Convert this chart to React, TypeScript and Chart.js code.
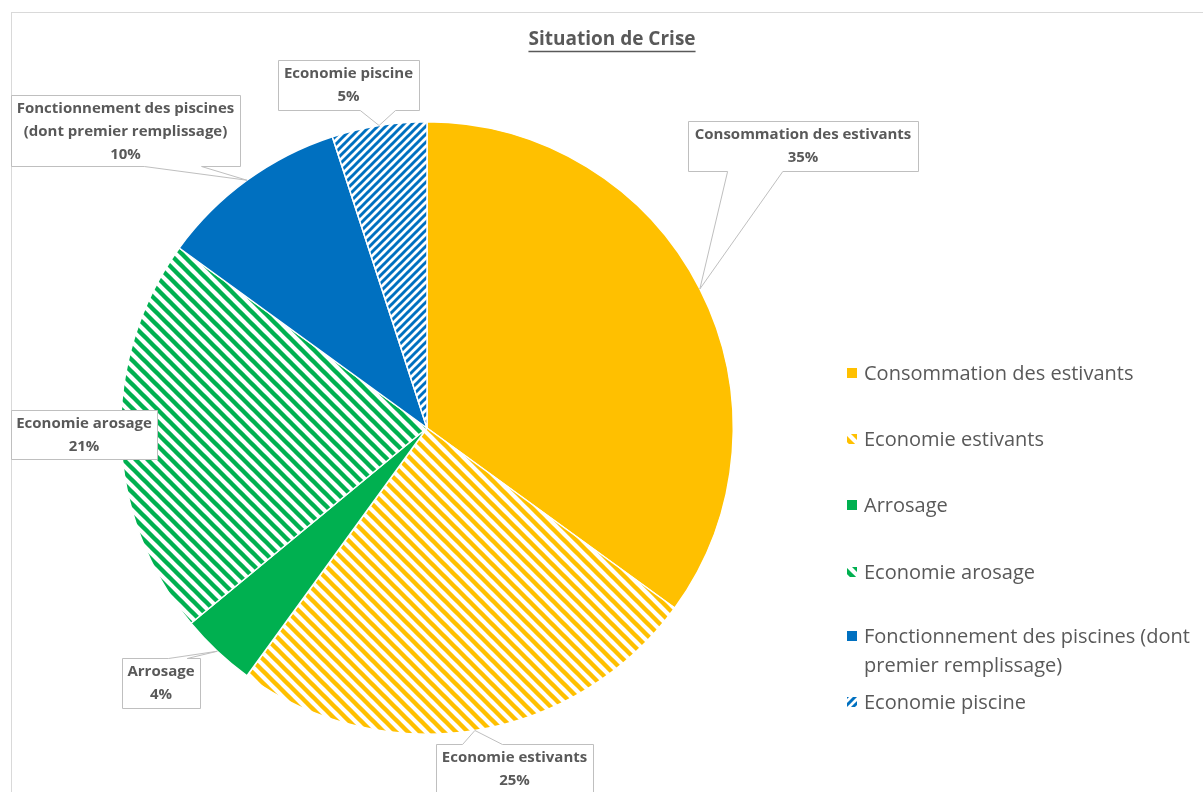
import React, { useEffect, useRef } from "react";
import { Chart, registerables } from "chart.js";

Chart.register(...registerables);

// ---------- data ----------
const titleText = "Situation de Crise";
const categories = [
  "Consommation des estivants",
  "Economie estivants",
  "Arrosage",
  "Economie arosage",
  "Fonctionnement des piscines (dont premier remplissage)",
  "Economie piscine",
];
const values = [35, 25, 4, 21, 10, 5];
const baseColors = ["#FFC000", "#FFC000", "#00B050", "#00B050", "#0070C0", "#0070C0"];
const fillKinds = ["solid", "down", "solid", "down", "solid", "up"];
const calloutLines = [
  ["Consommation des estivants"],
  ["Economie estivants"],
  ["Arrosage"],
  ["Economie arosage"],
  ["Fonctionnement des piscines", "(dont premier remplissage)"],
  ["Economie piscine"],
];
const legendLines = [
  ["Consommation des estivants"],
  ["Economie estivants"],
  ["Arrosage"],
  ["Economie arosage"],
  ["Fonctionnement des piscines (dont", "premier remplissage)"],
  ["Economie piscine"],
];

// ---------- layout / style ----------
const W = 1203;
const H = 792;
const TEXT_GRAY = "#595959";
const calloutBoxes = [
  { x: 688, y: 121, w: 230, h: 50, side: "bottom", b0: 0.17, b1: 0.41 },
  { x: 436, y: 744, w: 157, h: 56, side: "top", b0: 0.166, b1: 0.42 },
  { x: 122, y: 658, w: 78, h: 50, side: "top", b0: 0.59, b1: 0.83 },
  { x: 11, y: 410, w: 146, h: 49, side: "none", b0: 0, b1: 0 },
  { x: 11, y: 95, w: 229, h: 71, side: "bottom", b0: 0.58, b1: 0.83 },
  { x: 278, y: 60, w: 141, h: 50, side: "bottom", b0: 0.58, b1: 0.83 },
];
const legendRowY = [373, 439, 505, 572, 636, 702];
const patternTile: Record<string, number> = { down: 12, up: 8 };

function makePattern(color: string, dir: string): CanvasPattern | string {
  const s = patternTile[dir] || 8;
  const c = document.createElement("canvas");
  c.width = s;
  c.height = s;
  const g = c.getContext("2d");
  if (!g) return color;
  g.fillStyle = "#ffffff";
  g.fillRect(0, 0, s, s);
  g.strokeStyle = color;
  g.lineWidth = (s / Math.SQRT2) * 0.52;
  g.lineCap = "square";
  for (const x0 of [-s, 0, s]) {
    g.beginPath();
    if (dir === "down") {
      g.moveTo(x0 - 3, -3);
      g.lineTo(x0 + s + 3, s + 3);
    } else {
      g.moveTo(x0 - 3, s + 3);
      g.lineTo(x0 + s + 3, -3);
    }
    g.stroke();
  }
  return g.createPattern(c, "repeat") || color;
}

function drawCallout(ctx: CanvasRenderingContext2D, box: any, tip: { x: number; y: number }) {
  const x = box.x + 0.5;
  const y = box.y + 0.5;
  const { w, h, side, b0, b1 } = box;
  ctx.beginPath();
  ctx.moveTo(x, y);
  if (side === "top") {
    ctx.lineTo(x + w * b0, y);
    ctx.lineTo(tip.x, tip.y);
    ctx.lineTo(x + w * b1, y);
  }
  ctx.lineTo(x + w, y);
  ctx.lineTo(x + w, y + h);
  if (side === "bottom") {
    ctx.lineTo(x + w * b1, y + h);
    ctx.lineTo(tip.x, tip.y);
    ctx.lineTo(x + w * b0, y + h);
  }
  ctx.lineTo(x, y + h);
  ctx.closePath();
  ctx.fillStyle = "#ffffff";
  ctx.fill();
  ctx.strokeStyle = "#bfbfbf";
  ctx.lineWidth = 1;
  ctx.stroke();
}

export default function App() {
  const ref = useRef<HTMLCanvasElement | null>(null);

  useEffect(() => {
    const canvas = ref.current;
    if (!canvas) return;
    const fills = baseColors.map((c, i) => (fillKinds[i] === "solid" ? c : makePattern(c, fillKinds[i])));

    const decor = {
      id: "decor",
      beforeDraw(chart: any) {
        const ctx: CanvasRenderingContext2D = chart.ctx;
        ctx.save();
        ctx.fillStyle = "#ffffff";
        ctx.fillRect(0, 0, W, H);
        ctx.strokeStyle = "#d9d9d9";
        ctx.lineWidth = 1;
        ctx.strokeRect(11.5, 12.5, 1300, 900);
        ctx.restore();
      },
      afterDraw(chart: any) {
        const ctx: CanvasRenderingContext2D = chart.ctx;
        ctx.save();
        // title
        ctx.font = "bold 19px 'Open Sans'";
        ctx.fillStyle = TEXT_GRAY;
        ctx.textAlign = "center";
        ctx.textBaseline = "middle";
        const tx = 612;
        const ty = 40;
        ctx.fillText(titleText, tx, ty);
        const tw = ctx.measureText(titleText).width;
        ctx.strokeStyle = TEXT_GRAY;
        ctx.lineWidth = 1.5;
        ctx.beginPath();
        ctx.moveTo(tx - tw / 2, 51.5);
        ctx.lineTo(tx + tw / 2, 51.5);
        ctx.stroke();

        // callouts
        const meta = chart.getDatasetMeta(0);
        meta.data.forEach((arc: any, i: number) => {
          const p = arc.getProps(["x", "y", "startAngle", "endAngle", "outerRadius"], true);
          const mid = (p.startAngle + p.endAngle) / 2;
          const tip = { x: p.x + Math.cos(mid) * p.outerRadius, y: p.y + Math.sin(mid) * p.outerRadius };
          const box = calloutBoxes[i];
          drawCallout(ctx, box, tip);
          const lines = [...calloutLines[i], `${values[i]}%`];
          ctx.font = "bold 15px 'Open Sans'";
          ctx.fillStyle = TEXT_GRAY;
          ctx.textAlign = "center";
          ctx.textBaseline = "middle";
          lines.forEach((ln, k) => {
            ctx.fillText(ln, box.x + box.w / 2, box.y + 14 + k * 23);
          });
        });

        // legend
        ctx.font = "20px 'Open Sans'";
        ctx.textAlign = "left";
        ctx.textBaseline = "middle";
        categories.forEach((_, i) => {
          const yc = legendRowY[i];
          ctx.fillStyle = fills[i] as any;
          ctx.fillRect(847, yc - 5, 10, 10);
          ctx.fillStyle = TEXT_GRAY;
          legendLines[i].forEach((ln, k) => {
            ctx.fillText(ln, 864, yc + 1 + k * 29);
          });
        });
        ctx.restore();
      },
    };

    const chart = new Chart(canvas, {
      type: "pie",
      data: {
        labels: categories,
        datasets: [
          {
            data: values,
            backgroundColor: fills as any,
            borderColor: "#ffffff",
            borderWidth: 1.5,
          },
        ],
      },
      options: {
        responsive: false,
        animation: false,
        layout: { padding: { left: 120, top: 121, right: 469, bottom: 57 } },
        plugins: {
          legend: { display: false },
          title: { display: false },
          tooltip: { enabled: false },
        },
      },
      plugins: [decor],
    });
    return () => chart.destroy();
  }, []);

  return (
    <div style={{ position: "absolute", left: 0, top: 0, width: W, height: H, background: "#fff" }}>
      <canvas ref={ref} width={W} height={H} style={{ width: W, height: H, display: "block" }} />
    </div>
  );
}
